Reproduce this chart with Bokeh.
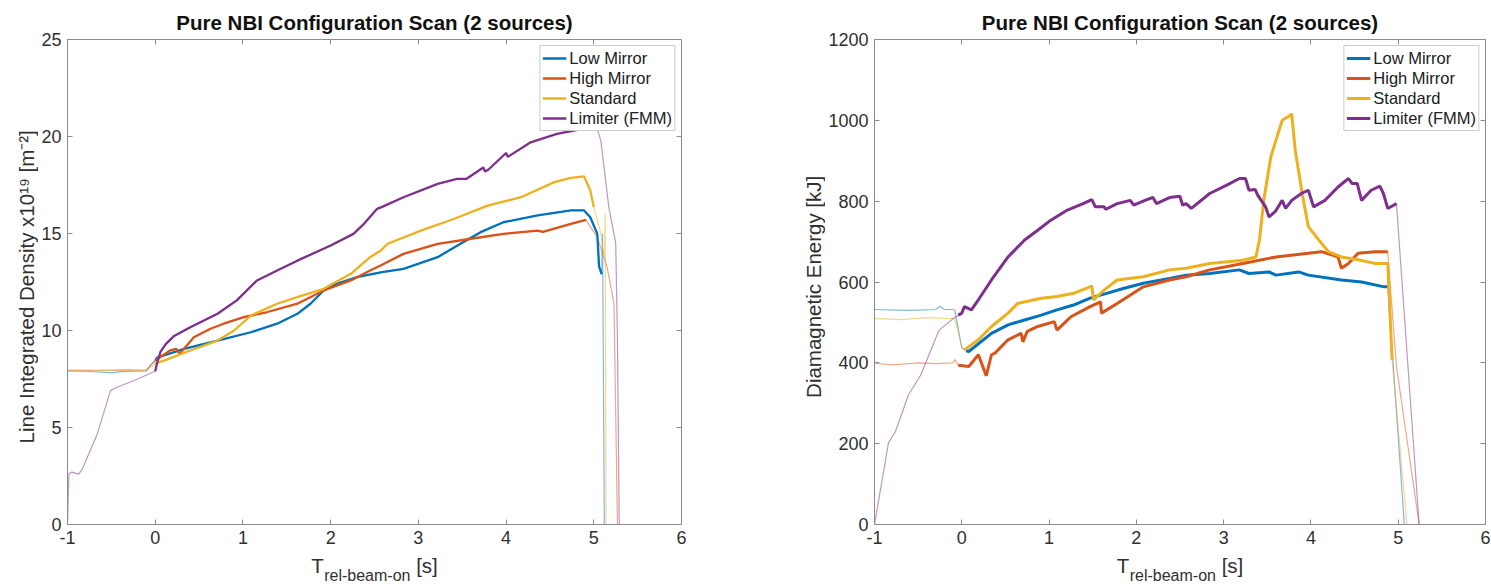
from math import pi

from bokeh.embed import file_html
from bokeh.layouts import column, row
from bokeh.models import FixedTicker, Label, Legend, LegendItem, LinearAxis, Range1d
from bokeh.plotting import figure
from bokeh.resources import INLINE

# ---------------------------------------------------------------- data
SERIES = ["Low Mirror", "High Mirror", "Standard", "Limiter (FMM)"]
COLORS = ["#0072BD", "#D95319", "#EDB120", "#7E2F8E"]

X_TICKS = [-1, 0, 1, 2, 3, 4, 5, 6]
DENSITY_TICKS = [0, 5, 10, 15, 20, 25]
ENERGY_TICKS = [0, 200, 400, 600, 800, 1000, 1200]

# Line integrated density (x1e19 m^-2) against time relative to beam-on (s)
dens_low_t = [-1, -0.8, -0.6, -0.5, -0.4, -0.2, -0.1, -0.05, 0.0, 0.02, 0.33, 0.71, 1.09, 1.39,
              1.62, 1.77, 1.92, 2.07, 2.3, 2.57, 2.83, 3.22, 3.48, 3.71, 3.97, 4.36, 4.74, 4.89,
              4.96, 5.04, 5.06, 5.09, 5.10, 5.12, 6.0]
dens_low = [7.9, 7.9, 7.85, 7.82, 7.88, 7.9, 7.92, 8.25, 8.45, 8.6, 9.05, 9.48, 9.91, 10.35,
            10.86, 11.38, 12.06, 12.41, 12.75, 13.0, 13.18, 13.78, 14.47, 15.07, 15.58, 15.93,
            16.19, 16.19, 15.84, 14.98, 13.3, 12.9, 15.0, 0.0, 0.0]
dens_high_t = [-1, -0.6, -0.3, -0.1, -0.05, 0.0, 0.17, 0.24, 0.28, 0.44, 0.63, 0.78, 1.01, 1.27,
               1.62, 1.92, 2.23, 2.45, 2.57, 2.83, 3.22, 3.6, 3.97, 4.36, 4.42, 4.74, 4.91, 5.04,
               5.15, 5.23, 5.27, 6.0]
dens_high = [7.95, 7.95, 7.97, 7.95, 8.2, 8.45, 8.97, 9.05, 8.8, 9.65, 10.09, 10.35, 10.69,
             10.94, 11.38, 12.06, 12.58, 13.09, 13.35, 13.95, 14.47, 14.73, 14.98, 15.15, 15.08,
             15.5, 15.7, 14.8, 13.3, 11.4, 0.0, 0.0]
dens_std_t = [-1, -0.5, -0.1, -0.05, 0.0, 0.1, 0.4, 0.71, 0.9, 1.09, 1.39, 1.62, 1.92, 2.23,
              2.45, 2.57, 2.65, 3.03, 3.41, 3.79, 4.17, 4.55, 4.74, 4.89, 4.96, 5.0, 5.08, 5.12,
              5.13, 5.14, 6.0]
dens_std = [7.95, 7.95, 7.95, 8.1, 8.3, 8.45, 8.97, 9.48, 10.0, 10.77, 11.38, 11.72, 12.15,
            12.92, 13.78, 14.12, 14.47, 15.15, 15.76, 16.44, 16.87, 17.65, 17.87, 17.94, 17.22,
            16.36, 15.0, 13.7, 16.0, 0.0, 0.0]
dens_lim_t = [-1, -0.985, -0.95, -0.87, -0.83, -0.66, -0.51, -0.45, -0.24, -0.03, 0.0, 0.02,
              0.06, 0.12, 0.21, 0.4, 0.71, 0.93, 1.16, 1.39, 1.62, 2.0, 2.26, 2.38, 2.53, 2.6,
              2.83, 3.22, 3.44, 3.55, 3.74, 3.76, 3.8, 4.0, 4.02, 4.28, 4.58, 4.89, 4.95, 5.04,
              5.08, 5.17, 5.25, 5.27, 5.29, 6.0]
dens_lim = [0.0, 2.61, 2.7, 2.6, 2.87, 4.67, 6.9, 7.05, 7.42, 7.85, 7.9, 8.3, 8.9, 9.3, 9.7,
            10.17, 10.86, 11.55, 12.58, 13.09, 13.6, 14.38, 14.98, 15.5, 16.27, 16.4, 16.87,
            17.56, 17.82, 17.82, 18.4, 18.2, 18.3, 19.15, 18.95, 19.7, 20.14, 20.4, 20.45, 20.37,
            19.8, 16.4, 14.5, 9.5, 0.0, 0.0]
# beam-on window of each density trace (drawn heavy)
dens_windows = [(0.0, 5.09), (0.0, 4.91), (0.0, 5.0), (0.0, 4.95)]

# Diamagnetic energy (kJ) against time relative to beam-on (s)
wdia_low_t = [-1, -0.6, -0.3, -0.25, -0.2, -0.1, -0.08, 0.0, 0.05, 0.08, 0.34, 0.53, 0.72, 0.91,
              1.09, 1.28, 1.47, 1.66, 1.85, 2.08, 2.38, 2.57, 2.84, 3.18, 3.29, 3.52, 3.6, 3.86,
              3.97, 4.35, 4.58, 4.84, 4.88, 5.07, 6.0]
wdia_low = [532, 530, 532, 540, 532, 532, 530, 437, 430, 428, 473, 494, 506, 518, 531, 543, 560,
            572, 584, 597, 609, 617, 621, 630, 621, 625, 617, 625, 617, 605, 600, 588, 588, 0, 0]
wdia_high_t = [-1, -0.8, -0.5, -0.3, -0.1, -0.08, -0.04, 0.08, 0.19, 0.28, 0.34, 0.38, 0.53,
               0.68, 0.70, 0.75, 0.87, 1.06, 1.09, 1.25, 1.47, 1.59, 1.6, 1.78, 2.08, 2.38, 2.57,
               2.84, 3.22, 3.6, 3.97, 4.12, 4.31, 4.35, 4.43, 4.54, 4.73, 4.88, 4.98, 5.24, 6.0]
wdia_high = [399, 395, 400, 398, 400, 408, 394, 391, 420, 368, 420, 424, 457, 473, 452, 478, 490,
             502, 481, 514, 539, 551, 523, 547, 588, 605, 613, 630, 646, 662, 671, 675, 662, 634,
             646, 671, 675, 675, 391, 0, 0]
wdia_std_t = [-1, -0.7, -0.4, -0.2, -0.1, -0.08, 0.0, 0.03, 0.19, 0.34, 0.53, 0.64, 0.91, 1.09,
              1.28, 1.47, 1.49, 1.51, 1.63, 1.78, 2.08, 2.38, 2.57, 2.84, 3.22, 3.37, 3.41, 3.46,
              3.54, 3.67, 3.76, 3.78, 3.82, 3.9, 3.97, 4.09, 4.2, 4.35, 4.54, 4.73, 4.88, 4.93,
              5.10, 6.0]
wdia_std = [510, 507, 512, 510, 510, 508, 440, 432, 457, 490, 523, 547, 560, 564, 572, 588, 590,
            556, 580, 605, 613, 630, 634, 646, 654, 662, 704, 802, 909, 1000, 1012, 1016, 926,
            819, 737, 704, 675, 662, 655, 646, 646, 407, 0, 0]
wdia_lim_t = [-1, -0.84, -0.76, -0.61, -0.47, -0.26, -0.09, -0.04, 0.0, 0.03, 0.11, 0.19, 0.34,
              0.53, 0.72, 0.87, 1.02, 1.21, 1.39, 1.49, 1.53, 1.63, 1.65, 1.78, 1.93, 1.97, 2.12,
              2.19, 2.23, 2.38, 2.5, 2.53, 2.57, 2.63, 2.84, 3.03, 3.18, 3.25, 3.29, 3.36, 3.39,
              3.48, 3.52, 3.59, 3.67, 3.71, 3.78, 3.89, 3.97, 4.03, 4.16, 4.31, 4.43, 4.47, 4.53,
              4.58, 4.69, 4.79, 4.83, 4.88, 4.98, 5.24, 6.0]
wdia_lim = [0, 202, 230, 321, 370, 481, 511, 518, 523, 539, 531, 556, 605, 662, 704, 728, 753,
            778, 794, 804, 786, 786, 780, 794, 802, 790, 804, 809, 794, 809, 812, 790, 794, 782,
            819, 839, 856, 856, 827, 829, 815, 786, 761, 774, 802, 782, 802, 819, 827, 786, 802,
            835, 856, 844, 844, 802, 827, 837, 819, 782, 794, 0, 0]
wdia_windows = [(0.05, 4.88), (-0.04, 4.88), (0.03, 4.93), (-0.04, 4.98)]

TITLE = "Pure NBI Configuration Scan (2 sources)"
DENSITY_LABEL = "Line Integrated Density x10\u00b9\u2079 [m\u207b\u00b2]"
ENERGY_LABEL = "Diamagnetic Energy [kJ]"

# ---------------------------------------------------------------- styling
FONT = "Liberation Sans"
TEXT_COLOR = "#303030"
AXIS_COLOR = "#8c8c8c"
TICK_SIZE = "18px"
LABEL_SIZE = 20.5
SUB_SIZE = 16.0
MID_TO_BASE = 0.36            # distance from a text's vertical middle to its baseline, in em

# page geometry (pixels)
PAGE_W = 1491
FRAME1_W, FRAME2_W, FRAME_H = 614, 611, 485
PLOT_TOP = 39                 # room for the title
PLOT_BOTTOM = 28              # room for the x tick labels
XLAB_H = 32                   # strip holding the x labels
PLOT_H = PLOT_TOP + FRAME_H + PLOT_BOTTOM
YLAB1_W, YLAB2_W = 38, 67
P1_LEFT, P1_RIGHT = 29, 77
P2_LEFT, P2_RIGHT = 49, 6

# Arial/Liberation Sans advance widths (1/1000 em) used to lay out the x labels
ADV = {" ": 278, "[": 278, "]": 278, "-": 333, "a": 556, "b": 556, "e": 556, "l": 222,
       "m": 833, "n": 556, "o": 556, "r": 333, "s": 500, "T": 611}


def text_width(s, size):
    return sum(ADV[c] for c in s) * size / 1000.0


def text_strip(width, height):
    """A blank canvas whose data units are its own pixels (y upwards)."""
    s = figure(width=width, height=height, x_range=Range1d(0, width),
               y_range=Range1d(0, height), min_border=0, x_axis_type=None,
               y_axis_type=None, toolbar_location=None, output_backend="svg", title=None)
    s.outline_line_color = None
    s.background_fill_color = "white"
    s.border_fill_color = "white"
    return s


def make_panel(traces, windows, y_top, y_ticks, heavy, frame_w, border_left, border_right):
    p = figure(frame_width=frame_w, frame_height=FRAME_H,
               x_range=Range1d(-1, 6), y_range=Range1d(0, y_top),
               min_border_left=border_left, min_border_right=border_right,
               min_border_top=PLOT_TOP, min_border_bottom=PLOT_BOTTOM,
               output_backend="svg", toolbar_location=None, title=TITLE)
    p.title.align = "center"
    p.title.text_font = FONT
    p.title.text_font_size = f"{LABEL_SIZE}px"
    p.title.text_font_style = "bold"
    p.title.text_color = "#111111"
    p.title.standoff = 12
    p.background_fill_color = "white"
    p.border_fill_color = "white"
    p.outline_line_color = None
    p.xgrid.visible = False
    p.ygrid.visible = False

    for ax, ticks in ((p.xaxis[0], X_TICKS), (p.yaxis[0], y_ticks)):
        ax.ticker = FixedTicker(ticks=ticks)
        ax.major_label_overrides = {t: str(t) for t in ticks}
        ax.major_tick_in = 5
        ax.major_tick_out = 0
        ax.minor_tick_line_color = None
        ax.axis_line_color = AXIS_COLOR
        ax.major_tick_line_color = AXIS_COLOR
        ax.major_label_text_font = FONT
        ax.major_label_text_font_size = TICK_SIZE
        ax.major_label_text_color = TEXT_COLOR
        ax.major_label_standoff = 6

    # mirrored box edges with inward ticks
    for place, ticks in (("above", X_TICKS), ("right", y_ticks)):
        ax = LinearAxis(ticker=FixedTicker(ticks=ticks),
                        major_label_overrides={t: "" for t in ticks},
                        major_label_text_font_size="0px", major_label_standoff=0,
                        major_tick_in=5, major_tick_out=0, minor_tick_line_color=None,
                        axis_line_color=AXIS_COLOR, major_tick_line_color=AXIS_COLOR)
        p.add_layout(ax, place)

    # full traces, light and thin
    for (t, v), color in zip(traces, COLORS):
        p.line(t, v, line_color=color, line_width=1.2, line_alpha=0.5)

    # beam-on part of each trace, heavy
    items = []
    for (t, v), (lo, hi), color, name in zip(traces, windows, COLORS, SERIES):
        keep = [(a, b) for a, b in zip(t, v) if lo <= a <= hi]
        r = p.line([a for a, _ in keep], [b for _, b in keep],
                   line_color=color, line_width=heavy)
        items.append(LegendItem(label=name, renderers=[r]))

    legend = Legend(items=items, location="top_right", margin=6, padding=2, spacing=0,
                    glyph_width=24, glyph_height=20, label_height=20, label_standoff=3,
                    label_text_font=FONT, label_text_font_size="16.5px",
                    label_text_color="#202020", border_line_color="#9a9a9a",
                    border_line_width=1, background_fill_color="white",
                    background_fill_alpha=1.0)
    p.add_layout(legend)
    return p


def place_parts(strip, parts, x0, y0):
    """Lay out (text, size, baseline shift, leading gap) pieces one after another,
    with (x0, y0) the centre of the run on its main baseline."""
    total = sum(text_width(s, size) + gap for s, size, _, gap in parts)
    cursor = -total / 2.0
    for s, size, shift, gap in parts:
        cursor += gap
        w = text_width(s, size)
        strip.add_layout(Label(x=x0 + cursor + w / 2.0, y=y0 + shift + MID_TO_BASE * size,
                               text=s, text_align="center", text_baseline="middle",
                               text_font=FONT, text_font_size=f"{size}px",
                               text_color=TEXT_COLOR))
        cursor += w


def vertical_label(strip, text, baseline_x, y_centre):
    strip.add_layout(Label(x=baseline_x - MID_TO_BASE * LABEL_SIZE, y=y_centre, text=text,
                           angle=pi / 2, text_align="center", text_baseline="middle",
                           text_font=FONT, text_font_size=f"{LABEL_SIZE}px",
                           text_color=TEXT_COLOR))


dens_traces = [(dens_low_t, dens_low), (dens_high_t, dens_high),
               (dens_std_t, dens_std), (dens_lim_t, dens_lim)]
wdia_traces = [(wdia_low_t, wdia_low), (wdia_high_t, wdia_high),
               (wdia_std_t, wdia_std), (wdia_lim_t, wdia_lim)]

left = make_panel(dens_traces, dens_windows, 25, DENSITY_TICKS, 2.3,
                  FRAME1_W, P1_LEFT, P1_RIGHT)
right = make_panel(wdia_traces, wdia_windows, 1200, ENERGY_TICKS, 3.0,
                   FRAME2_W, P2_LEFT, P2_RIGHT)

# horizontal centres of the two plot frames on the page
c1 = YLAB1_W + P1_LEFT + FRAME1_W / 2.0
c2 = YLAB1_W + P1_LEFT + FRAME1_W + P1_RIGHT + YLAB2_W + P2_LEFT + FRAME2_W / 2.0

# x labels: T with a subscript, then the unit
xlabels = text_strip(PAGE_W, XLAB_H)
x_parts = [("T", LABEL_SIZE, 0.0, 0.0), ("rel-beam-on", SUB_SIZE, -8.0, 0.5),
           ("[s]", LABEL_SIZE, 0.0, text_width(" ", LABEL_SIZE))]
for cx in (c1, c2):
    place_parts(xlabels, x_parts, cx, 11.5)

# y labels, reading upwards, centred on the frames
y_mid = FRAME_H / 2.0 + PLOT_BOTTOM
ylab1 = text_strip(YLAB1_W, PLOT_H)
vertical_label(ylab1, DENSITY_LABEL, 33.5, y_mid)
ylab2 = text_strip(YLAB2_W, PLOT_H)
vertical_label(ylab2, ENERGY_LABEL, 62.5, y_mid)

layout = column(row(ylab1, left, ylab2, right), xlabels)
with open("out.html", "w") as f:
    f.write(file_html(layout, INLINE))
